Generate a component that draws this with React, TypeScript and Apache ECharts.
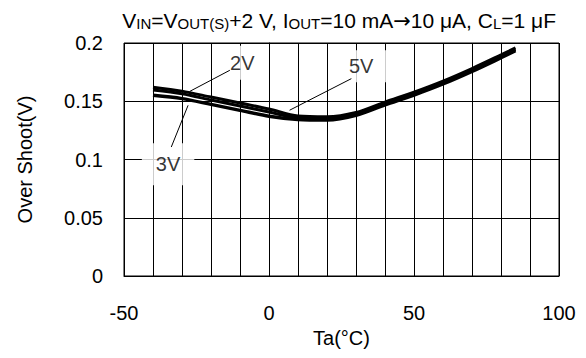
import React, { useEffect, useRef } from "react";
import * as echarts from "echarts";

const temps = [-40, -30, -20, -10, 0, 10, 20, 30, 40, 50, 60, 70, 80, 85];
const os2V = [0.1621, 0.1587, 0.1536, 0.1485, 0.1433, 0.1373, 0.1366, 0.1403, 0.1493, 0.1578, 0.1673, 0.1781, 0.1898, 0.1958];
const os5V = [0.1596, 0.1564, 0.1511, 0.1459, 0.1407, 0.1358, 0.1351, 0.139, 0.148, 0.1565, 0.166, 0.1768, 0.1885, 0.1945];
const os3V = [0.1551, 0.1523, 0.1473, 0.1422, 0.1371, 0.1343, 0.1338, 0.1378, 0.1468, 0.1553, 0.1648, 0.1756, 0.1873, 0.1933];

const xTickLabels = [-50, 0, 50, 100];
const yTickLabels = [0, 0.05, 0.1, 0.15, 0.2];

const curveNames = ["2V", "5V", "3V"];
const labelNames = ["2V", "3V", "5V"];
const labelPos = [
  [-9.2, 0.183],
  [-34.8, 0.0959],
  [32.3, 0.18],
];
const pointers = [
  [[-13.5, 0.1766], [-27.3, 0.1585]],
  [[-33.7, 0.1107], [-27.9, 0.1465]],
  [[28.4, 0.1694], [7.1, 0.1423]],
];

const FONT = "'Liberation Sans', Arial, sans-serif";

export default function App() {
  const ref = useRef<HTMLDivElement>(null);
  useEffect(() => {
    if (!ref.current) return;
    const chart = echarts.init(ref.current, null, { renderer: "svg" });
    const curves = [os2V, os5V, os3V];
    const widths = [3, 3, 3.4];
    const series: any[] = curves.map((vals, i) => ({
      name: curveNames[i],
      type: "line",
      data: temps.map((t, j) => [t, vals[j]]),
      smooth: 0.3,
      symbol: "none",
      lineStyle: { color: "#000", width: widths[i] },
      z: 2,
    }));
    const pads = [
      [10, 6, 4, 6],
      [8, 14, 14, 14],
      [10, 15, 2, 12],
    ];
    series.push({
      type: "scatter",
      symbolSize: 0,
      data: labelPos.map((p, i) => ({
        value: p,
        name: labelNames[i],
        label: { padding: pads[i] },
      })),
      label: {
        show: true,
        position: "inside",
        formatter: (p: any) => p.name,
        color: "#000",
        fontSize: 20,
        fontFamily: FONT,
        backgroundColor: "#fff",
      },
      z: 3,
      silent: true,
    });
    pointers.forEach((seg) => {
      series.push({
        type: "line",
        data: seg,
        symbol: "none",
        lineStyle: { color: "#000", width: 1 },
        z: 4,
        silent: true,
      });
    });

    const m = { fontSize: 21, fontFamily: FONT, fontWeight: "normal", color: "#000", verticalAlign: "bottom", lineHeight: 25 };
    const s = { fontSize: 15, fontFamily: FONT, fontWeight: "normal", color: "#000", verticalAlign: "bottom", lineHeight: 25 };
    const a = { fontSize: 21, fontFamily: "'DejaVu Sans', sans-serif", fontWeight: "normal", color: "#000", verticalAlign: "bottom", lineHeight: 25 };

    chart.setOption({
      animation: false,
      backgroundColor: "#fff",
      textStyle: { fontFamily: FONT },
      title: {
        right: 30,
        top: 6,
        padding: 0,
        text:
          "{m|V}{s|IN}{m|=V}{s|OUT(S)}{m|+2 V, I}{s|OUT}{m|=10 mA}{a|\u2192}{m|10 \u03bcA, C}{s|L}{m|=1 \u03bcF}",
        textStyle: { fontWeight: "normal", rich: { m, s, a } },
      },
      grid: { left: 124, right: 27, top: 43, bottom: 82, show: true, borderColor: "#000", borderWidth: 1 },
      xAxis: {
        type: "value",
        min: -50,
        max: 100,
        interval: 10,
        name: "Ta(\u00b0C)",
        nameLocation: "middle",
        nameGap: 52,
        nameTextStyle: { fontSize: 20, color: "#000", fontFamily: FONT },
        axisLine: { lineStyle: { color: "#000", width: 1 } },
        axisTick: { show: false },
        axisLabel: {
          fontSize: 20,
          color: "#000",
          margin: 27,
          fontFamily: FONT,
          formatter: (v: number) => (xTickLabels.includes(v) ? String(v) : ""),
        },
        splitLine: { show: true, lineStyle: { color: "#000", width: 1 } },
      },
      yAxis: {
        type: "value",
        min: 0,
        max: 0.2,
        interval: 0.05,
        name: "Over Shoot(V)",
        nameLocation: "middle",
        nameGap: 89,
        nameTextStyle: { fontSize: 20, color: "#000", fontFamily: FONT },
        axisLine: { lineStyle: { color: "#000", width: 1 } },
        axisTick: { show: false },
        axisLabel: {
          fontSize: 20,
          color: "#000",
          margin: 21,
          fontFamily: FONT,
          formatter: (v: number) => {
            const t = yTickLabels.find((y) => Math.abs(y - v) < 1e-9);
            return t === undefined ? "" : String(t);
          },
        },
        splitLine: { show: true, lineStyle: { color: "#000", width: 1 } },
      },
      series,
    });
    return () => chart.dispose();
  }, []);
  return (
    <div
      ref={ref}
      style={{ position: "fixed", left: 0, top: 0, width: 586, height: 358 }}
    />
  );
}
